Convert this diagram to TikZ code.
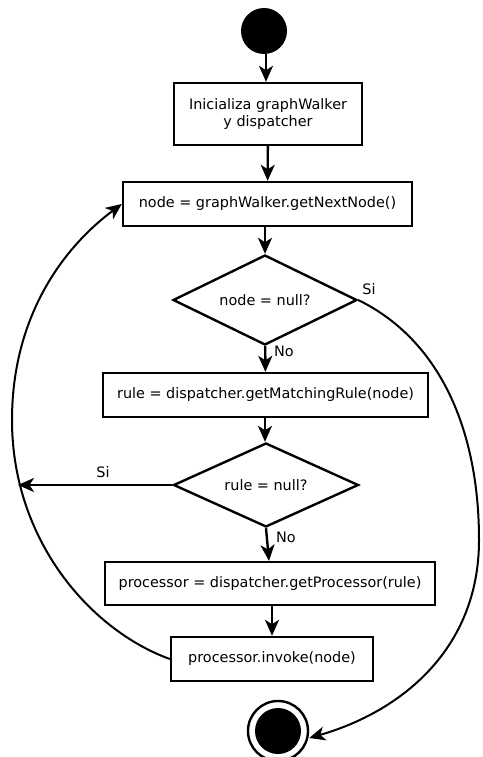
\documentclass[tikz,border=0pt]{standalone}
\usepackage{fontspec}
\setmainfont{DejaVu Sans}
\usetikzlibrary{shapes.geometric,arrows.meta}

\begin{document}
\begin{tikzpicture}[x=1pt,y=-1pt,
  txt/.style={font=\fontsize{14.4}{17}\selectfont},
  box/.style={txt, draw, line width=2.4pt, rectangle, inner sep=0pt, align=center},
  choice/.style={txt, draw, line width=2.4pt, diamond, aspect=2.1, inner sep=0pt},
  tip/.style={-{Stealth[length=16pt,width=14pt,inset=4.5pt]}},
  flow/.style={line width=2.4pt, tip},
  back/.style={line width=2pt, tip},
  lbl/.style={txt, inner sep=0pt}]
\useasboundingbox (0,0) rectangle (482,757);

% start and end states
\node[circle, fill=black, minimum size=46pt, inner sep=0pt] (start) at (264,31) {};
\node[circle, draw, line width=2.4pt, minimum size=60pt, inner sep=0pt] (endo) at (278,731) {};
\node[circle, fill=black, minimum size=46pt, inner sep=0pt] (endi) at (278,731) {};

% actions and decisions
\node[box, minimum width=188pt, minimum height=62pt] (init) at (268,114) {Inicializa graphWalker\\y dispatcher};
\node[box, minimum width=289pt, minimum height=44pt] (next) at (267.5,204) {node = graphWalker.getNextNode()};
\node[choice, minimum width=184pt, minimum height=90pt] (isnull) at (265,300) {node = null?};
\node[box, minimum width=325pt, minimum height=44pt] (match) at (265.5,395) {rule = dispatcher.getMatchingRule(node)};
\node[choice, minimum width=185pt, minimum height=84pt] (norule) at (266,485) {rule = null?};
\node[box, minimum width=330pt, minimum height=43pt] (proc) at (270,583.5) {processor = dispatcher.getProcessor(rule)};
\node[box, minimum width=202pt, minimum height=44pt] (invoke) at (272,659) {processor.invoke(node)};

% straight transitions
\draw[flow] (start.south -| 266,0) -- (init.north -| 266,0);
\draw[flow] (init) -- (next);
\draw[flow] (next.south -| 265,0) -- (isnull.north);
\draw[flow] (isnull) -- (match);
\draw[flow] (match.south -| 265,0) -- (norule.north -| 265,0);
\draw[flow] (norule.south) -- (proc.north -| 269,0);
\draw[flow] (proc.south -| 272,0) -- (invoke.north -| 272,0);

% branch labels
\node[lbl] (no1) at (284,351) {No};
\node[lbl] (no2) at (286,537) {No};
\node[lbl] (si1) at (369,289) {Si};
\node[lbl] (si2) at (103,472) {Si};

% loop back to the next node
\coordinate (ret) at (18,485);
\coordinate (lp) at (12,420);
\draw[flow] (norule.west) -- (ret);
\draw[back] (invoke.west) .. controls (90,630) and (12,540) .. (lp)
  .. controls (12,320) and (60,250) .. (next.west);

% exit when no node is left
\coordinate (rp) at (479,540);
\draw[back] (isnull.east) .. controls (440,340) and (479,430) .. (rp)
  .. controls (479,650) and (400,712) .. (endo.east |- 0,738);
\end{tikzpicture}
\end{document}
